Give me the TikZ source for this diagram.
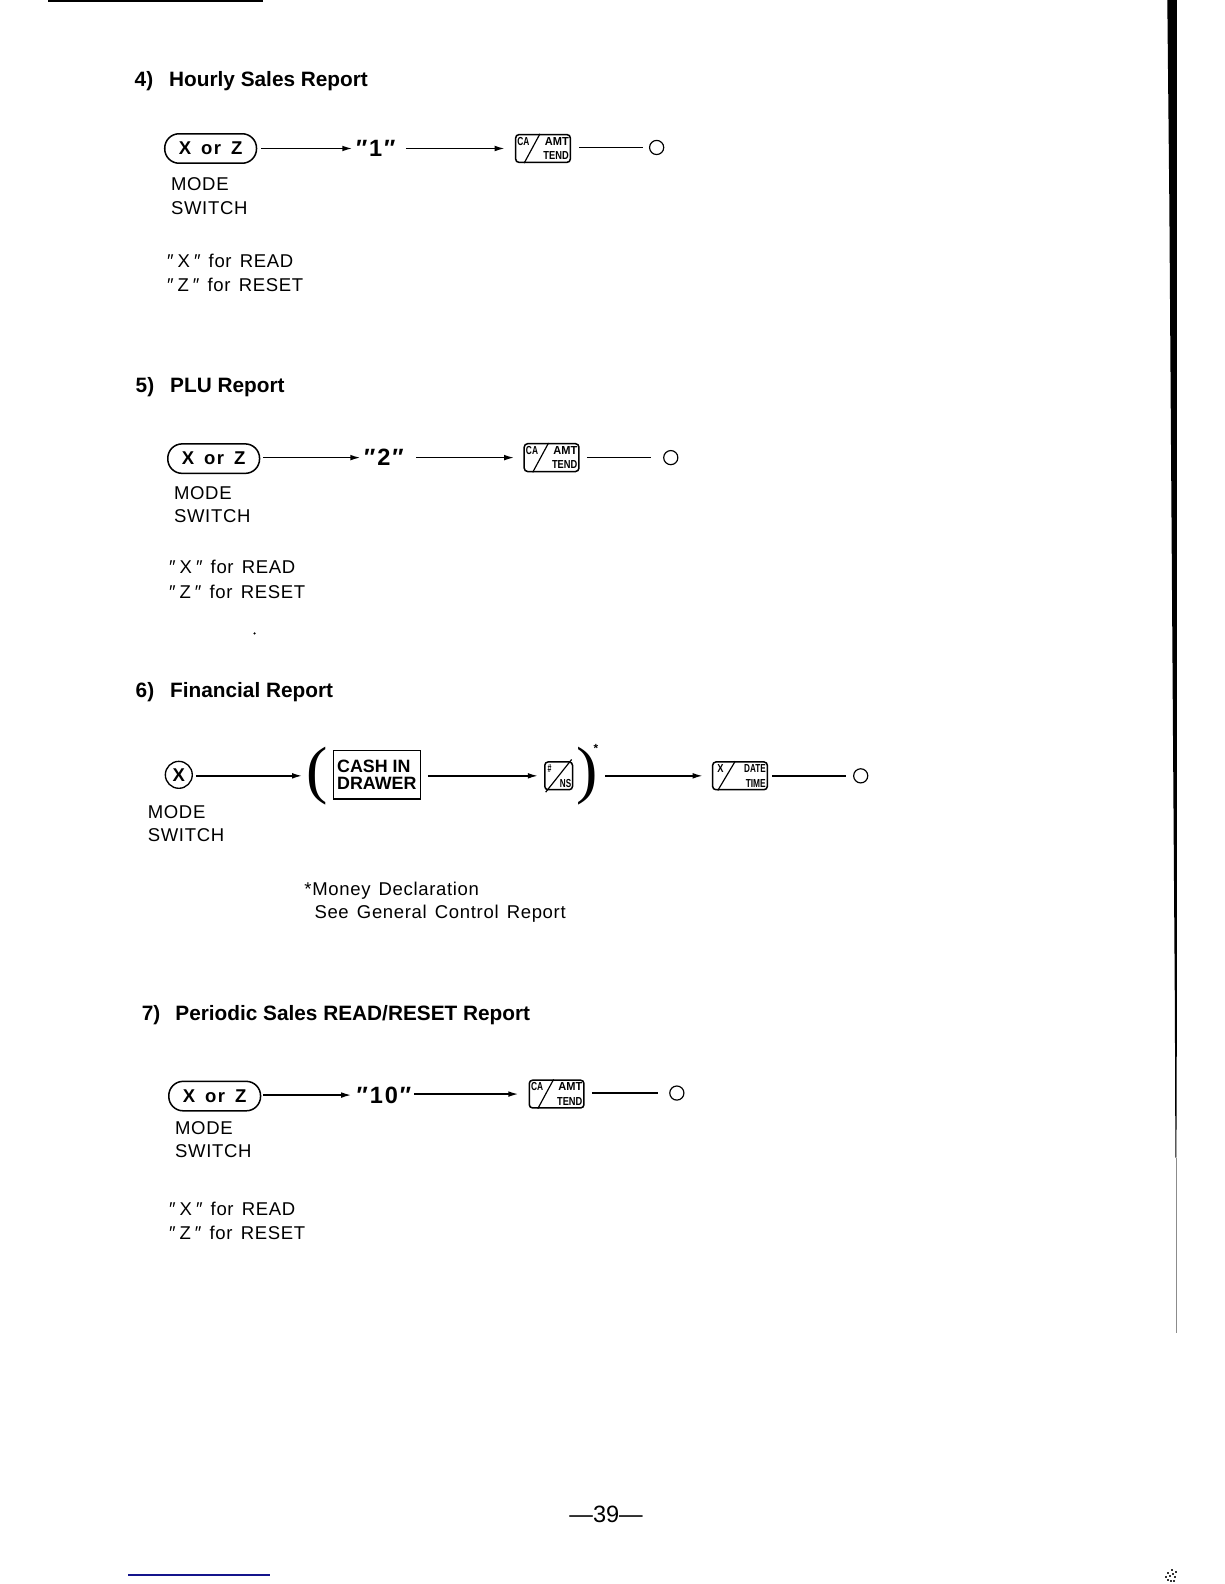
\documentclass[tikz,border=0pt]{standalone}
\usepackage{fontspec}
\usepackage{graphicx}
\setmainfont{Liberation Sans}
\newfontfamily\bodyf[LetterSpace=3.6,WordSpace=1.4]{Liberation Sans}
\newfontfamily\pillf[LetterSpace=8,WordSpace=1.5]{Liberation Sans}
\newfontfamily\parenf{Liberation Serif}
\usetikzlibrary{arrows.meta,calc}
\definecolor{navy}{RGB}{20,20,140}
\newcommand{\qs}{\hspace{2.4pt}}
\tikzset{
  x=0.6pt,y=-0.6pt,
  body/.style={anchor=base west,inner sep=0pt,font=\bodyf\fontsize{11}{13}\selectfont},
  title/.style={anchor=base west,inner sep=0pt,font=\fontsize{12.35}{14}\bfseries\selectfont},
  quoted/.style={inner sep=0pt,font=\pillf\fontsize{14}{16}\bfseries\selectfont},
  pill/.style={draw,line width=0.9pt,rounded corners=8.5pt,minimum width=54.5pt,minimum height=17.5pt,inner sep=0pt,font=\pillf\fontsize{11}{13}\bfseries\selectfont},
  keybox/.style={draw,line width=0.9pt,rounded corners=2pt,minimum height=16.5pt,inner sep=0pt},
  ring/.style={draw,circle,line width=0.7pt,minimum size=8.4pt,inner sep=0pt},
  link/.style={line width=0.9pt},
  arr/.style={line width=0.9pt,-{Latex[length=6pt,width=3.4pt]}},
  ktxt/.style={inner sep=0pt,font=\fontsize{6.9}{6.9}\bfseries\selectfont},
  bracket/.style={inner sep=0pt,font=\parenf\fontsize{38}{38}\selectfont},
}
\newcommand{\keytext}[1]{\scalebox{.8}[1]{#1}}
\newcommand{\cakey}[2]{% name, centre
  \node[keybox,minimum width=32.5pt] (#1) at (#2) {};
  \draw[line width=0.7pt] ($(#1.south west)+(5.5pt,0)$) -- ($(#1.north east)+(-18.5pt,0)$);
  \node[ktxt,anchor=north west] (#1a) at ($(#1.north west)+(1.3pt,-1.8pt)$) {\scalebox{.72}[1]{CA}};
  \node[ktxt,anchor=north east] (#1b) at ($(#1.north east)+(-1.2pt,-1.8pt)$) {\scalebox{.95}[1]{AMT}};
  \node[ktxt,anchor=south east] (#1c) at ($(#1.south east)+(-1.2pt,1.8pt)$) {\keytext{TEND}};
}
\begin{document}
\begin{tikzpicture}
\useasboundingbox (0,0) rectangle (1212,1568);
% scan marks
\fill[black] (1155.5,0) -- (1165,0) -- (1165,1000) -- (1164.5,1146) -- (1163.5,1146) -- (1163,1000) -- (1157.5,200) -- cycle;
\fill[black!45] (1163.8,1146) rectangle (1164.6,1320);
\fill[black] (48,0) rectangle (260,2.4);
\draw[line width=0.7pt,navy] (127,1559) -- (267,1559);
\foreach \px/\py in {1153/1560,1155/1556,1157/1559,1159/1553,1160/1557,1162/1560,1155/1563,1158/1564,1161/1564,1163/1555}
  {\fill[black!80] (\px,\py) rectangle ++(2.2,2.2);}
\fill (252,627) circle (1.2);

% ---- 4
\node[title] (t4) at (133,86) {4)\hspace{9.5pt}Hourly Sales Report};
\node[pill] (p4) at (208.5,147) {X or Z};
\node[quoted] (q4) at (372,147) {″1″};
\cakey{k4}{537.5,147}
\node[ring] (e4) at (650,146) {};
\draw[arr,shorten >=2pt] (p4.east)++(4,0) -- (q4.west);
\draw[arr,shorten >=6pt] (q4.east)++(10,0) -- (k4.west);
\draw[link,shorten >=3.6pt] (k4.east)++(8,-1) -- (e4.west);
\node[body] (m4) at (169,189) {MODE};
\node[body] (s4) at (169,212) {SWITCH};
\node[body] (x4) at (165,265) {″\qs X\qs ″ for READ};
\node[body] (z4) at (165,289) {″\qs Z\qs ″ for RESET};

% ---- 5
\node[title] (t5) at (134,389) {5)\hspace{9.5pt}PLU Report};
\node[pill] (p5) at (211.5,454) {X or Z};
\node[quoted] (q5) at (380,453) {″2″};
\cakey{k5}{546,453}
\node[ring] (e5) at (664,453) {};
\draw[arr,shorten >=2pt] (p5.east)++(3,-1) -- (q5.west);
\draw[arr,shorten >=5.5pt] (q5.east)++(12,0) -- (k5.west);
\draw[link,shorten >=7pt] (k5.east)++(7,0) -- (e5.west);
\node[body] (m5) at (172,494) {MODE};
\node[body] (s5) at (172,517) {SWITCH};
\node[body] (x5) at (167,568) {″\qs X\qs ″ for READ};
\node[body] (z5) at (167,592) {″\qs Z\qs ″ for RESET};

% ---- 6
\node[title] (t6) at (134,690) {6)\hspace{9.5pt}Financial Report};
\node[ring,minimum size=16pt,line width=0.8pt] (c6) at (177,767) {\fontsize{11}{13}\bfseries\selectfont X};
\node[bracket] (l6) at (314,768) {(};
\node[draw,line width=0.7pt,inner sep=0pt,minimum width=51.6pt,minimum height=28.8pt,align=left,font=\fontsize{10.6}{10.4}\bfseries\selectfont] (b6) at (373,767) {CASH IN\\DRAWER};
\node[keybox,minimum width=16.5pt] (n6) at (553,768) {};
\draw[line width=0.7pt] ($(n6.south west)+(1pt,-1pt)$) -- ($(n6.north east)+(-1pt,1pt)$);
\node[ktxt,anchor=north west] (n6a) at ($(n6.north west)+(2pt,-2pt)$) {\scalebox{.6}[1]{\#}};
\node[ktxt,anchor=south east] (n6b) at ($(n6.south east)+(-1pt,1.6pt)$) {\scalebox{.7}[1]{NS}};
\node[bracket] (r6) at (581,768) {)};
\node[inner sep=0pt,font=\fontsize{7}{7}\bfseries\selectfont] (st6) at (590,741) {*};
\node[keybox,minimum width=32.5pt] (d6) at (732.5,768) {};
\draw[line width=0.7pt] ($(d6.south west)+(3.5pt,0)$) -- ($(d6.north east)+(-19.5pt,0)$);
\node[ktxt,anchor=north west] (d6a) at ($(d6.north west)+(3pt,-1.8pt)$) {\keytext{X}};
\node[ktxt,anchor=north east] (d6b) at ($(d6.north east)+(-1.2pt,-1.8pt)$) {\scalebox{.7}[1]{DATE}};
\node[ktxt,anchor=south east] (d6c) at ($(d6.south east)+(-1.2pt,1.8pt)$) {\scalebox{.72}[1]{TIME}};
\node[ring] (e6) at (852,768) {};
\draw[arr,shorten >=2.4pt] (c6.east)++(3,1) -- (l6.west);
\draw[arr,shorten >=3.6pt] (b6.east)++(7,1) -- (n6.west);
\draw[arr,shorten >=5.4pt] (r6.east)++(7,0) -- (d6.west);
\draw[link,shorten >=4pt] (d6.east)++(4,0) -- (e6.west);
\node[body] (m6) at (146,810) {MODE};
\node[body] (s6) at (146,833) {SWITCH};
\node[body] (a6) at (301,886) {*Money Declaration};
\node[body] (g6) at (311,909) {See General Control Report};

% ---- 7
\node[title] (t7) at (140,1010) {7)\hspace{9pt}Periodic Sales READ/RESET Report};
\node[pill] (p7) at (212.5,1085) {X or Z};
\node[quoted] (q7) at (380,1084) {″10″};
\cakey{k7}{551,1083}
\node[ring] (e7) at (670,1082) {};
\draw[arr,shorten >=3pt] (p7.east)++(2,-1) -- (q7.west);
\draw[arr,shorten >=6pt] (q7.east)++(3,-1) -- (k7.west);
\draw[link,shorten >=6.5pt] (k7.east)++(7,-1) -- (e7.west);
\node[body] (m7) at (173,1123) {MODE};
\node[body] (s7) at (173,1146) {SWITCH};
\node[body] (x7) at (167,1203) {″\qs X\qs ″ for READ};
\node[body] (z7) at (167,1227) {″\qs Z\qs ″ for RESET};

\node[inner sep=0pt,font=\fontsize{14}{15}\selectfont] (pg) at (600,1499) {---39---};
\end{tikzpicture}
\end{document}
